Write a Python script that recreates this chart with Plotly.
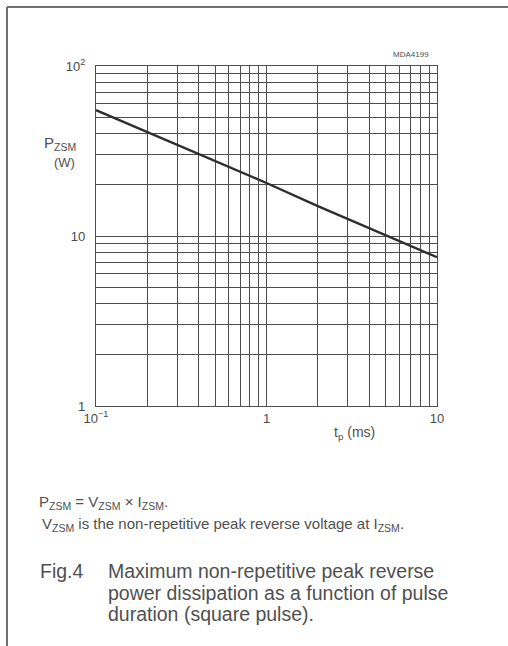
import plotly.graph_objects as go

# Data
t_ms = [0.1, 0.2, 0.5, 1, 2, 5, 10]
p_zsm = [55, 41, 27.5, 20.5, 15, 10.1, 7.5]

x_tickvals = [0.1, 1, 10]
x_ticktext = ["10<sup>−1</sup>", "1", "10"]
y_tickvals = [1, 10, 100]
y_ticktext = ["1", "10", "10<sup>2</sup>"]
x_minor = [0.2, 0.3, 0.4, 0.5, 0.6, 0.7, 0.8, 0.9, 2, 3, 4, 5, 6, 7, 8, 9]
y_minor = [2, 3, 4, 5, 6, 7, 8, 9, 20, 30, 40, 50, 60, 70, 80, 90]

W, H = 508, 646
L, R, T, B = 96, 437, 66, 406
FONT = "Liberation Sans, Arial, Helvetica, sans-serif"
GRID = "#4d4d4d"


def px(x):
    return (x - L) / (R - L)


def py(y):
    return (B - y) / (B - T)


fig = go.Figure()
fig.add_trace(go.Scatter(x=t_ms, y=p_zsm, mode="lines",
                         line=dict(color="#2e2e2e", width=2.4),
                         showlegend=False, hoverinfo="skip"))

fig.update_xaxes(type="log", range=[-1, 1], tickvals=x_tickvals, ticktext=x_ticktext,
                 showgrid=True, gridcolor=GRID, gridwidth=1.4,
                 minor=dict(tickvals=x_minor, showgrid=True, gridcolor=GRID, gridwidth=1.4, ticks=""),
                 showline=True, linecolor=GRID, linewidth=1.4, mirror=True,
                 ticks="", zeroline=False,
                 tickfont=dict(family=FONT, size=13, color="#4a4a4a"))
fig.update_yaxes(type="log", range=[0, 2], tickvals=y_tickvals, ticktext=y_ticktext,
                 showgrid=True, gridcolor=GRID, gridwidth=1.4,
                 minor=dict(tickvals=y_minor, showgrid=True, gridcolor=GRID, gridwidth=1.4, ticks=""),
                 showline=True, linecolor=GRID, linewidth=1.4, mirror=True,
                 ticks="", zeroline=False, ticklabelstandoff=7,
                 tickfont=dict(family=FONT, size=13, color="#4a4a4a"))

ann = []


def txt(x, y, s, size, anchor="left", color="#505050"):
    ann.append(dict(x=px(x), y=py(y), xref="paper", yref="paper", text=s, showarrow=False,
                    xanchor=anchor, yanchor="middle",
                    font=dict(family=FONT, size=size, color=color)))


txt(42, 143, "P<sub>ZSM</sub>", 15)
txt(64, 162, "(W)", 13, anchor="center")
txt(332, 433, "t<sub>p</sub> (ms)", 14)
txt(431, 55, "MDA4199", 8, anchor="right")
txt(37, 503, "P<sub>ZSM</sub> = V<sub>ZSM</sub> × I<sub>ZSM</sub>.", 15)
txt(40, 524, "V<sub>ZSM</sub> is the non-repetitive peak reverse voltage at I<sub>ZSM</sub>.", 15)
txt(38, 571, "Fig.4", 19.5)
txt(106, 571, "Maximum non-repetitive peak reverse", 19.5)
txt(106, 593, "power dissipation as a function of pulse", 19.5)
txt(106, 614, "duration (square pulse).", 19.5)

shapes = [
    dict(type="line", xref="paper", yref="paper", x0=px(7), y0=py(646), x1=px(7), y1=py(7),
         line=dict(color="#707070", width=2)),
    dict(type="line", xref="paper", yref="paper", x0=px(7), y0=py(7), x1=px(508), y1=py(7),
         line=dict(color="#707070", width=2)),
]

fig.update_layout(width=W, height=H, margin=dict(l=L, r=W - R, t=T, b=H - B),
                  paper_bgcolor="white", plot_bgcolor="white",
                  annotations=ann, shapes=shapes)

fig.write_html("out.html")
